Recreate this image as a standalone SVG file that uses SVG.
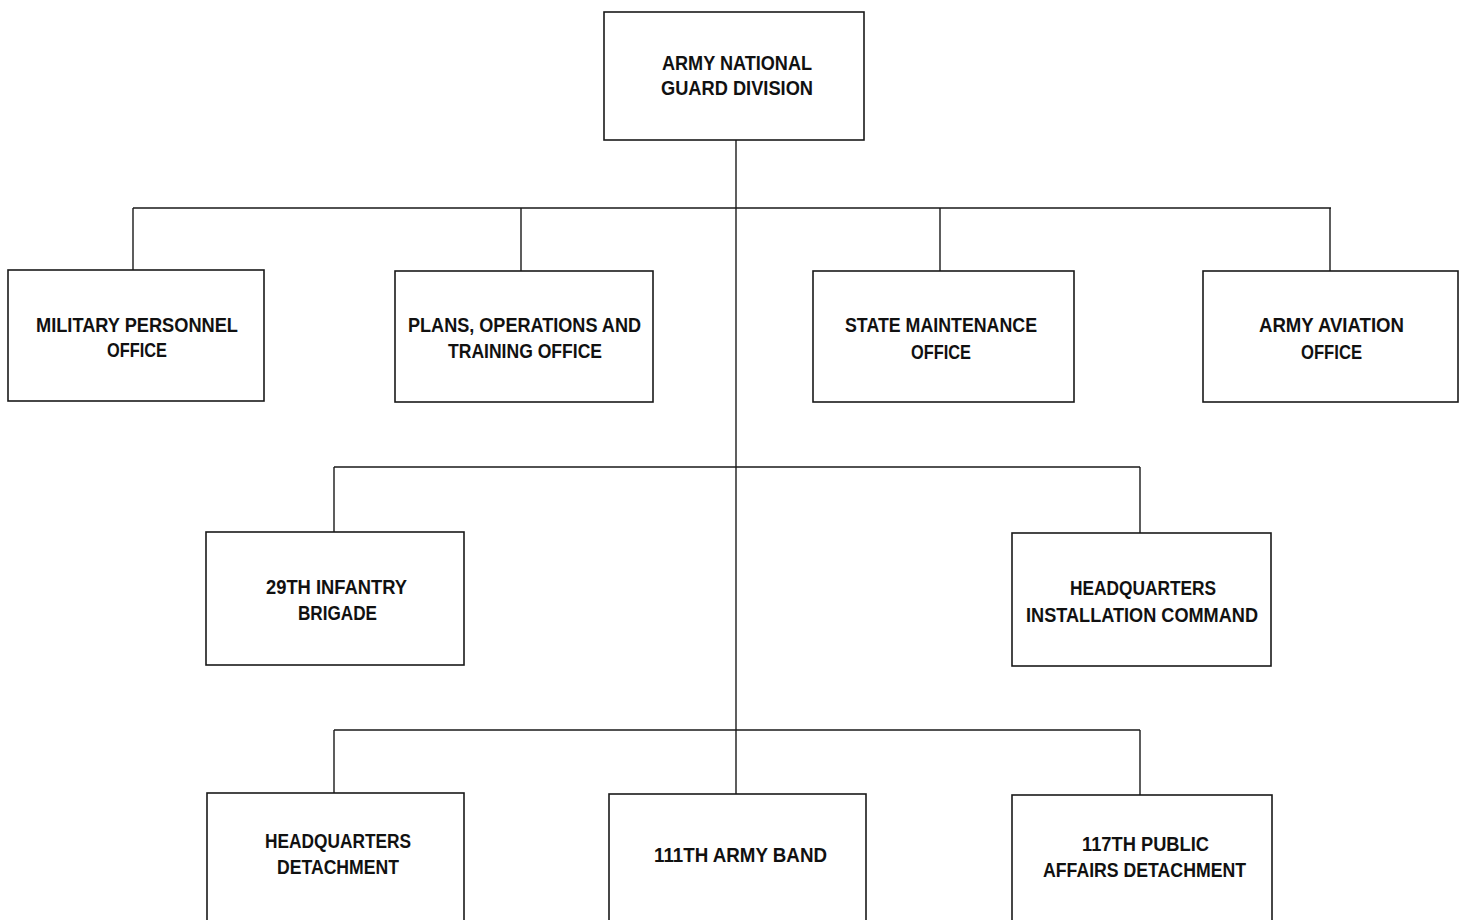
<svg xmlns="http://www.w3.org/2000/svg" width="1466" height="920" viewBox="0 0 1466 920">
<style>
.box{fill:#fff;stroke:#1a1a1a;stroke-width:1.6}
.ln{fill:none;stroke:#1a1a1a;stroke-width:1.4}
text{font-family:"Liberation Sans",Arial,sans-serif;font-size:20.5px;font-weight:bold;fill:#111;text-anchor:middle}
</style>
<rect width="1466" height="920" fill="#fff"/>
<g id="connectors">
<path class="ln" d="M736 140 V730"/>
<path class="ln" d="M133 208 H1331 M133 208 V270 M521 208 V271 M940 208 V271 M1330 208 V271"/>
<path class="ln" d="M334 467 H1140 M334 467 V532 M1140 467 V533"/>
<path class="ln" d="M334 730 H1140 M334 730 V793 M736 730 V794 M1140 730 V795"/>
</g>
<g id="n-root"><rect class="box" x="604" y="12" width="260" height="128"/><text x="737" y="69.5" textLength="150" lengthAdjust="spacingAndGlyphs">ARMY NATIONAL</text><text x="737" y="95" textLength="152" lengthAdjust="spacingAndGlyphs">GUARD DIVISION</text></g>
<g id="n-mpo"><rect class="box" x="8" y="270" width="256" height="131"/><text x="137" y="332" textLength="202" lengthAdjust="spacingAndGlyphs">MILITARY PERSONNEL</text><text x="137" y="357" textLength="60" lengthAdjust="spacingAndGlyphs">OFFICE</text></g>
<g id="n-pot"><rect class="box" x="395" y="271" width="258" height="131"/><text x="524.5" y="332" textLength="233" lengthAdjust="spacingAndGlyphs">PLANS, OPERATIONS AND</text><text x="525" y="358" textLength="154" lengthAdjust="spacingAndGlyphs">TRAINING OFFICE</text></g>
<g id="n-smo"><rect class="box" x="813" y="271" width="261" height="131"/><text x="941" y="332" textLength="192" lengthAdjust="spacingAndGlyphs">STATE MAINTENANCE</text><text x="941" y="359" textLength="60" lengthAdjust="spacingAndGlyphs">OFFICE</text></g>
<g id="n-aao"><rect class="box" x="1203" y="271" width="255" height="131"/><text x="1331.5" y="332" textLength="145" lengthAdjust="spacingAndGlyphs">ARMY AVIATION</text><text x="1331.5" y="359" textLength="61" lengthAdjust="spacingAndGlyphs">OFFICE</text></g>
<g id="n-29th"><rect class="box" x="206" y="532" width="258" height="133"/><text x="336.5" y="594" textLength="141" lengthAdjust="spacingAndGlyphs">29TH INFANTRY</text><text x="337.5" y="620" textLength="79" lengthAdjust="spacingAndGlyphs">BRIGADE</text></g>
<g id="n-hic"><rect class="box" x="1012" y="533" width="259" height="133"/><text x="1143" y="595" textLength="146" lengthAdjust="spacingAndGlyphs">HEADQUARTERS</text><text x="1142" y="622" textLength="232" lengthAdjust="spacingAndGlyphs">INSTALLATION COMMAND</text></g>
<g id="n-hqd"><rect class="box" x="207" y="793" width="257" height="140"/><text x="338" y="848" textLength="146" lengthAdjust="spacingAndGlyphs">HEADQUARTERS</text><text x="338" y="874" textLength="122" lengthAdjust="spacingAndGlyphs">DETACHMENT</text></g>
<g id="n-band"><rect class="box" x="609" y="794" width="257" height="140"/><text x="740.5" y="862" textLength="173" lengthAdjust="spacingAndGlyphs">111TH ARMY BAND</text></g>
<g id="n-pad"><rect class="box" x="1012" y="795" width="260" height="140"/><text x="1145.5" y="851" textLength="127" lengthAdjust="spacingAndGlyphs">117TH PUBLIC</text><text x="1144.5" y="877" textLength="203" lengthAdjust="spacingAndGlyphs">AFFAIRS DETACHMENT</text></g>
</svg>
